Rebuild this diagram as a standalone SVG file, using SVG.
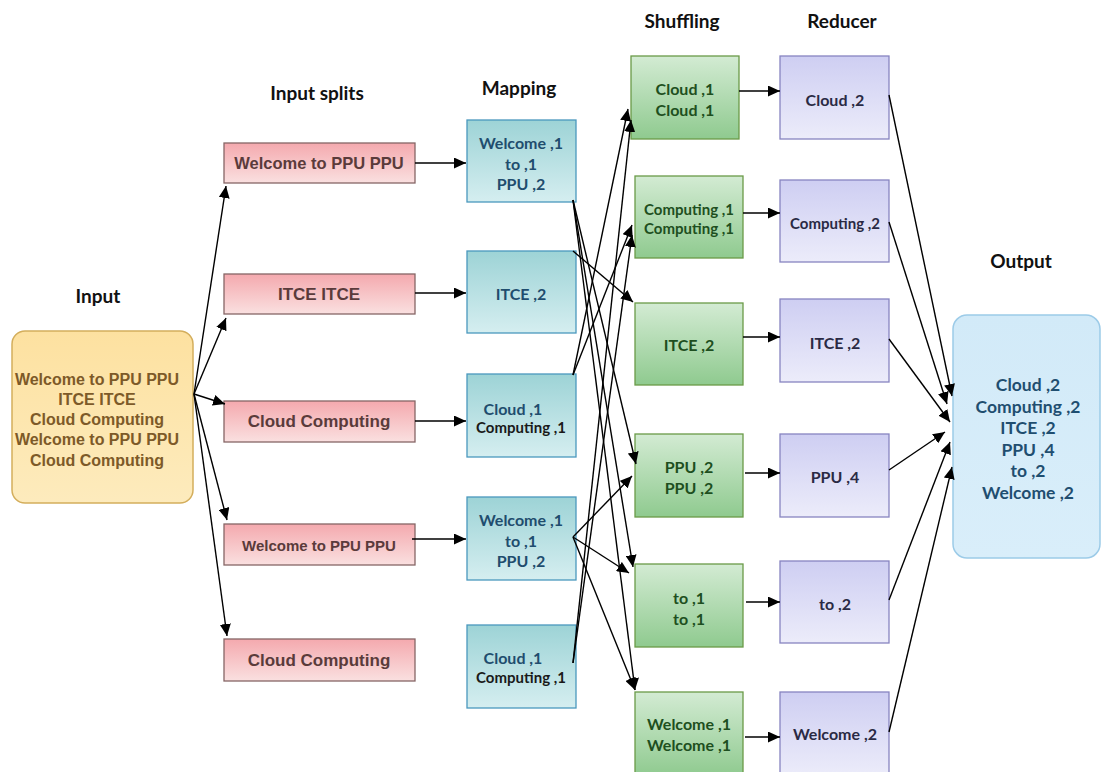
<svg xmlns="http://www.w3.org/2000/svg" width="1102" height="772" viewBox="0 0 1102 772">
  <defs>
    <linearGradient id="gInput" x1="0" y1="0" x2="0" y2="1">
      <stop offset="0" stop-color="#fde1a0"/>
      <stop offset="1" stop-color="#fdebbd"/>
    </linearGradient>
    <linearGradient id="gSplit" x1="0" y1="0" x2="0" y2="1">
      <stop offset="0" stop-color="#f4a9ae"/>
      <stop offset="1" stop-color="#fae0e0"/>
    </linearGradient>
    <linearGradient id="gMap" x1="0" y1="0" x2="0" y2="1">
      <stop offset="0" stop-color="#9dd3d6"/>
      <stop offset="1" stop-color="#d5eef0"/>
    </linearGradient>
    <linearGradient id="gShuf" x1="0" y1="0" x2="0" y2="1">
      <stop offset="0" stop-color="#d3ebd3"/>
      <stop offset="1" stop-color="#8fca8f"/>
    </linearGradient>
    <linearGradient id="gRed" x1="0" y1="0" x2="0" y2="1">
      <stop offset="0" stop-color="#cecef2"/>
      <stop offset="1" stop-color="#ececfa"/>
    </linearGradient>
    <linearGradient id="gOut" x1="0" y1="0" x2="0" y2="1">
      <stop offset="0" stop-color="#d2eaf8"/>
      <stop offset="1" stop-color="#d9eefa"/>
    </linearGradient>
    <marker id="arrow" markerUnits="userSpaceOnUse" markerWidth="14" markerHeight="11" refX="12" refY="5.5" orient="auto">
      <path d="M0,0 L12,5.5 L0,11 z" fill="#000"/>
    </marker>
  </defs>
  <style>
    .hdr { font-family: Lato, "Liberation Sans", sans-serif; font-weight: bold; font-size: 19px; fill: #111; text-anchor: middle; dominant-baseline: central; }
    .in { fill: url(#gInput); stroke: #d4ae5c; stroke-width: 1.5; }
    .inT { font-family: "Liberation Sans", Arial, sans-serif; font-weight: bold; font-size: 16px; fill: #7d5a28; text-anchor: middle; dominant-baseline: central; }
    .sp { fill: url(#gSplit); stroke: #866666; stroke-width: 1.3; }
    .spT { font-family: "Liberation Sans", Arial, sans-serif; font-weight: bold; font-size: 17px; fill: #5a3b3b; text-anchor: middle; dominant-baseline: central; }
    .mp { fill: url(#gMap); stroke: #4a98bd; stroke-width: 1.3; }
    .mpT { font-family: Lato, "Liberation Sans", sans-serif; font-weight: bold; font-size: 16px; fill: #1f4d6e; text-anchor: middle; dominant-baseline: central; }
    .mpK { font-family: Lato, "Liberation Sans", sans-serif; font-weight: bold; font-size: 15px; fill: #1a1a1a; text-anchor: middle; dominant-baseline: central; }
    .sh { fill: url(#gShuf); stroke: #6a9a48; stroke-width: 1.3; }
    .shT { font-family: Lato, "Liberation Sans", sans-serif; font-weight: bold; font-size: 16px; fill: #1e4f20; text-anchor: middle; dominant-baseline: central; }
    .rd { fill: url(#gRed); stroke: #8784c0; stroke-width: 1.3; }
    .rdT { font-family: Lato, "Liberation Sans", sans-serif; font-weight: bold; font-size: 16px; fill: #2a2a44; text-anchor: middle; dominant-baseline: central; }
    .out { fill: url(#gOut); stroke: #9ccbe8; stroke-width: 1.5; }
    .outT { font-family: Lato, "Liberation Sans", sans-serif; font-weight: bold; font-size: 17.5px; fill: #1f4e70; text-anchor: middle; dominant-baseline: central; }
    .c line { stroke: #000; stroke-width: 1.4; marker-end: url(#arrow); }
  </style>

  <rect width="1102" height="772" fill="#fff"/>

  <!-- column headings -->
  <g id="headings">
    <text class="hdr" x="98" y="295">Input</text>
    <text class="hdr" x="317" y="92">Input splits</text>
    <text class="hdr" x="519" y="87">Mapping</text>
    <text class="hdr" x="682" y="20">Shuffling</text>
    <text class="hdr" x="842" y="20">Reducer</text>
    <text class="hdr" x="1021" y="260">Output</text>
  </g>

  <!-- input document -->
  <g id="input">
    <rect class="in" x="12" y="331" width="181" height="172" rx="13"/>
    <text class="inT" x="97" y="379">Welcome to PPU PPU</text>
    <text class="inT" x="97" y="399">ITCE ITCE</text>
    <text class="inT" x="97" y="419">Cloud Computing</text>
    <text class="inT" x="97" y="439">Welcome to PPU PPU</text>
    <text class="inT" x="97" y="460">Cloud Computing</text>
  </g>

  <!-- input splits -->
  <g id="split1"><rect class="sp" x="224" y="143" width="191" height="40"/><text class="spT" x="319" y="163" style="font-size:16.5px">Welcome to PPU PPU</text></g>
  <g id="split2"><rect class="sp" x="224" y="274" width="191" height="40"/><text class="spT" x="319" y="294">ITCE ITCE</text></g>
  <g id="split3"><rect class="sp" x="224" y="401" width="191" height="41"/><text class="spT" x="319" y="421">Cloud Computing</text></g>
  <g id="split4"><rect class="sp" x="224" y="524" width="191" height="41"/><text class="spT" x="319" y="545" style="font-size:15px">Welcome to PPU PPU</text></g>
  <g id="split5"><rect class="sp" x="224" y="639" width="191" height="42"/><text class="spT" x="319" y="660">Cloud Computing</text></g>

  <!-- mapping -->
  <g id="map1"><rect class="mp" x="467" y="120" width="109" height="82"/>
    <text class="mpT" x="521" y="142">Welcome ,1</text><text class="mpT" x="521" y="163">to ,1</text><text class="mpT" x="521" y="183">PPU ,2</text></g>
  <g id="map2"><rect class="mp" x="467" y="251" width="109" height="82"/>
    <text class="mpT" x="521" y="293">ITCE ,2</text></g>
  <g id="map3"><rect class="mp" x="467" y="374" width="109" height="83"/>
    <text class="mpT" x="513" y="408">Cloud ,1</text><text class="mpK" x="521" y="427">Computing ,1</text></g>
  <g id="map4"><rect class="mp" x="467" y="497" width="109" height="83"/>
    <text class="mpT" x="521" y="519">Welcome ,1</text><text class="mpT" x="521" y="540">to ,1</text><text class="mpT" x="521" y="560">PPU ,2</text></g>
  <g id="map5"><rect class="mp" x="467" y="625" width="109" height="83"/>
    <text class="mpT" x="513" y="657">Cloud ,1</text><text class="mpK" x="521" y="677">Computing ,1</text></g>

  <!-- shuffling -->
  <g id="shuf1"><rect class="sh" x="631" y="56" width="108" height="83"/>
    <text class="shT" x="685" y="88">Cloud ,1</text><text class="shT" x="685" y="109">Cloud ,1</text></g>
  <g id="shuf2"><rect class="sh" x="635" y="176" width="108" height="82"/>
    <text class="shT" x="689" y="209" style="font-size:15px">Computing ,1</text><text class="shT" x="689" y="228" style="font-size:15px">Computing ,1</text></g>
  <g id="shuf3"><rect class="sh" x="635" y="303" width="108" height="82"/>
    <text class="shT" x="689" y="344">ITCE ,2</text></g>
  <g id="shuf4"><rect class="sh" x="635" y="434" width="108" height="83"/>
    <text class="shT" x="689" y="466">PPU ,2</text><text class="shT" x="689" y="487">PPU ,2</text></g>
  <g id="shuf5"><rect class="sh" x="635" y="564" width="108" height="83"/>
    <text class="shT" x="689" y="597">to ,1</text><text class="shT" x="689" y="618">to ,1</text></g>
  <g id="shuf6"><rect class="sh" x="635" y="692" width="108" height="84"/>
    <text class="shT" x="689" y="723">Welcome ,1</text><text class="shT" x="689" y="744">Welcome ,1</text></g>

  <!-- reducers -->
  <g id="red1"><rect class="rd" x="780" y="56" width="109" height="83"/><text class="rdT" x="835" y="99">Cloud ,2</text></g>
  <g id="red2"><rect class="rd" x="780" y="180" width="109" height="82"/><text class="rdT" x="835" y="223" style="font-size:15px">Computing ,2</text></g>
  <g id="red3"><rect class="rd" x="780" y="299" width="109" height="83"/><text class="rdT" x="835" y="342">ITCE ,2</text></g>
  <g id="red4"><rect class="rd" x="780" y="434" width="109" height="83"/><text class="rdT" x="835" y="476">PPU ,4</text></g>
  <g id="red5"><rect class="rd" x="780" y="561" width="109" height="82"/><text class="rdT" x="835" y="603">to ,2</text></g>
  <g id="red6"><rect class="rd" x="780" y="692" width="109" height="84"/><text class="rdT" x="835" y="733">Welcome ,2</text></g>

  <!-- final output -->
  <g id="output">
    <rect class="out" x="953" y="315" width="147" height="243" rx="14"/>
    <text class="outT" x="1028" y="384">Cloud ,2</text>
    <text class="outT" x="1028" y="406">Computing ,2</text>
    <text class="outT" x="1028" y="427">ITCE ,2</text>
    <text class="outT" x="1028" y="449">PPU ,4</text>
    <text class="outT" x="1028" y="470">to ,2</text>
    <text class="outT" x="1028" y="492">Welcome ,2</text>
  </g>

  <!-- connectors -->
  <g id="connectors" class="c">
    <!-- input to splits -->
    <line x1="194" y1="394" x2="226" y2="186"/>
    <line x1="194" y1="394" x2="226" y2="318"/>
    <line x1="194" y1="394" x2="225" y2="404"/>
    <line x1="194" y1="394" x2="227" y2="520"/>
    <line x1="194" y1="394" x2="227" y2="636"/>
    <!-- splits to mapping -->
    <line x1="415" y1="163" x2="466" y2="163"/>
    <line x1="415" y1="293" x2="466" y2="293"/>
    <line x1="415" y1="421" x2="466" y2="421"/>
    <line x1="412" y1="539" x2="466" y2="539"/>
    <!-- mapping to shuffling -->
    <line x1="573" y1="200" x2="636" y2="464"/>
    <line x1="573" y1="200" x2="633" y2="567"/>
    <line x1="573" y1="200" x2="635" y2="690"/>
    <line x1="573" y1="251" x2="633" y2="302"/>
    <line x1="573" y1="375" x2="628" y2="109"/>
    <line x1="573" y1="375" x2="632" y2="225"/>
    <line x1="573" y1="537" x2="632" y2="476"/>
    <line x1="573" y1="537" x2="629" y2="573"/>
    <line x1="573" y1="537" x2="635" y2="690"/>
    <line x1="573" y1="663" x2="631" y2="120"/>
    <line x1="573" y1="663" x2="632" y2="235"/>
    <!-- shuffling to reducers -->
    <line x1="739" y1="91" x2="780" y2="91"/>
    <line x1="743" y1="213" x2="780" y2="213"/>
    <line x1="743" y1="337" x2="780" y2="337"/>
    <line x1="745" y1="473" x2="780" y2="473"/>
    <line x1="746" y1="602" x2="780" y2="602"/>
    <line x1="745" y1="737" x2="780" y2="737"/>
    <!-- reducers to output -->
    <line x1="889" y1="95" x2="952" y2="396"/>
    <line x1="889" y1="222" x2="947" y2="404"/>
    <line x1="889" y1="339" x2="950" y2="422"/>
    <line x1="889" y1="470" x2="945" y2="432"/>
    <line x1="889" y1="600" x2="950" y2="442"/>
    <line x1="889" y1="732" x2="952" y2="467"/>
  </g>
</svg>
